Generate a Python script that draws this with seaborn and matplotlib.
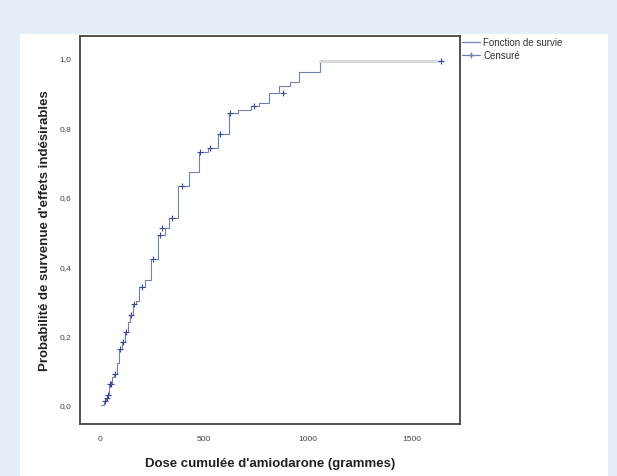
import matplotlib
matplotlib.use("Agg")
import matplotlib.pyplot as plt
import seaborn as sns
import pandas as pd
from matplotlib.lines import Line2D
from matplotlib.patches import Rectangle
from matplotlib.ticker import FuncFormatter

# ---- data ----
dose = [6, 20, 30, 38, 45, 60, 66, 80, 91, 105, 119, 135, 142, 160, 175, 189,
        217, 245, 277, 311, 330, 377, 430, 476, 519, 566, 619, 666, 726, 764,
        811, 862, 915, 957, 1057]
prob = [0.00, 0.01, 0.02, 0.03, 0.06, 0.08, 0.09, 0.12, 0.16, 0.18, 0.21, 0.24,
        0.26, 0.29, 0.30, 0.34, 0.36, 0.42, 0.49, 0.51, 0.54, 0.63, 0.67, 0.73,
        0.74, 0.78, 0.84, 0.85, 0.86, 0.87, 0.90, 0.92, 0.93, 0.96, 0.99]
tail_dose = [1057, 1642]
tail_prob = [0.99, 0.99]
cens_dose = [25, 33, 40, 50, 55, 70, 95, 110, 125, 150, 165, 200, 255, 290, 300,
             345, 395, 480, 530, 575, 625, 740, 880, 1642]
cens_prob = [0.01, 0.02, 0.03, 0.06, 0.06, 0.09, 0.16, 0.18, 0.21, 0.26, 0.29,
             0.34, 0.42, 0.49, 0.51, 0.54, 0.63, 0.73, 0.74, 0.78, 0.84, 0.86,
             0.90, 0.99]
yticks = [0.0, 0.2, 0.4, 0.6, 0.8, 1.0]
xticks = [0, 500, 1000, 1500]
legend_labels = ["Fonction de survie", "Censuré"]
xlabel = "Dose cumulée d'amiodarone (grammes)"
ylabel = "Probabilité de survenue d'effets indésirables"

sns.set_style("white")
plt.rcParams["font.family"] = ["Liberation Sans", "DejaVu Sans"]

fig = plt.figure(figsize=(6.17, 4.77), dpi=100)
fig.patch.set_facecolor("#e6eef7")
bg = Rectangle((20 / 617, 0), 588 / 617, 1 - 35 / 477,
               transform=fig.transFigure, facecolor="white",
               edgecolor="none", zorder=-10)
fig.add_artist(bg)

ax = fig.add_axes([80 / 617, 52 / 477, 380 / 617, 388 / 477])
ax.set_zorder(5)
ax.set_facecolor("white")

line_col = "#7480ac"
df = pd.DataFrame({"dose": dose, "prob": prob})
sns.lineplot(data=df, x="dose", y="prob", ax=ax, drawstyle="steps-post",
             color=line_col, linewidth=0.8, estimator=None, sort=False)
tail = pd.DataFrame({"dose": tail_dose, "prob": tail_prob})
sns.lineplot(data=tail, x="dose", y="prob", ax=ax, color="#dadada",
             linewidth=2.2, estimator=None, sort=False)
cens = pd.DataFrame({"dose": cens_dose, "prob": cens_prob})
sns.scatterplot(data=cens, x="dose", y="prob", ax=ax, marker="+", s=14,
                color="#3a4a95", linewidth=0.8, zorder=5)

ax.set_xlim(-96, 1731)
ax.set_ylim(-0.055, 1.063)
ax.set_xticks(xticks)
ax.set_yticks(yticks)
ax.yaxis.set_major_formatter(FuncFormatter(lambda v, p: f"{v:.1f}".replace(".", ",")))
ax.tick_params(axis="both", direction="out", length=3, width=0.8,
               labelsize=6, colors="#444444")
ax.tick_params(axis="x", pad=5)
ax.tick_params(axis="y", pad=3)
for s in ax.spines.values():
    s.set_color("#444444")
    s.set_linewidth(1.3)

ax.set_xlabel(xlabel, fontsize=9.5, fontweight="bold", color="#222222", labelpad=11)
ax.set_ylabel(ylabel, fontsize=9.5, fontweight="bold", color="#222222", labelpad=6)

handles = [Line2D([0], [0], color=line_col, linewidth=0.9),
           Line2D([0], [0], color=line_col, linewidth=0.9, marker="+",
                  markersize=5)]
fig.legend(handles, legend_labels, loc="upper left",
           bbox_to_anchor=(462 / 617, 1 - 38 / 477), frameon=False,
           fontsize=7, handlelength=1.9, handletextpad=0.3,
           labelspacing=0.3, borderaxespad=0, borderpad=0,
           labelcolor="#333333")

fig.savefig("out.png", dpi=100, facecolor=fig.get_facecolor())
